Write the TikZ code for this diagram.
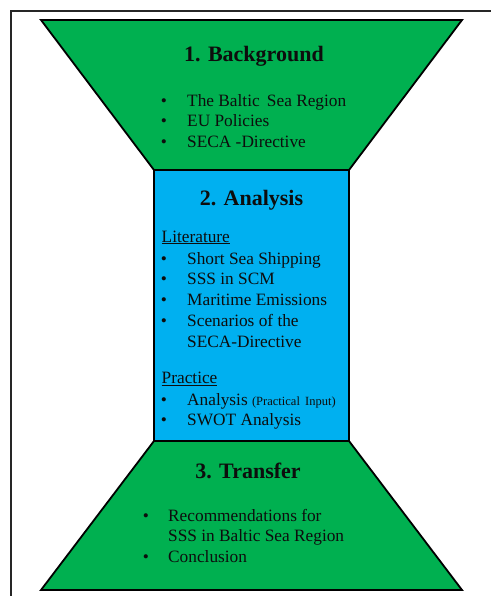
\documentclass[tikz,border=0pt]{standalone}
\usepackage{fontspec}
\setmainfont{Liberation Serif}
\definecolor{boxgreen}{HTML}{00B050}
\definecolor{boxblue}{HTML}{00B0F0}
\definecolor{txt}{HTML}{0D0D0D}
\tikzset{
  shapeline/.style={draw=black, line width=1.8pt, line join=miter},
  ttl/.style={anchor=base, inner sep=0pt, font=\fontsize{22}{26}\selectfont\bfseries, text=txt},
  itm/.style={anchor=base west, inner sep=0pt, font=\fontsize{17.3}{20.8}\selectfont, text=txt},
  dot/.style={anchor=base, inner sep=0pt, font=\fontsize{17.3}{20.8}\selectfont, text=txt},
}
\begin{document}
\begin{tikzpicture}[x=1pt, y=-1pt]
\useasboundingbox (0,0) rectangle (490,596);
% outer frame
\draw[line width=1.4pt, black!85] (11,620) -- (11,11) -- (520,11);
% shapes
\path[shapeline, fill=boxgreen] (41,20) -- (462,20) -- (349,170) -- (154,170) -- cycle;
\path[shapeline, fill=boxgreen] (154,441) -- (349,441) -- (462,590) -- (41,590) -- cycle;
\path[shapeline, fill=boxblue] (154,170) rectangle (349,441);
% section 1
\node[ttl] (t1) at (254,61.7) {1. Background};
\node[dot] (b11) at (164,106.7) {•};
\node[itm] (i11) at (187,106.7) {The Baltic\, Sea Region};
\node[dot] (b12) at (164,126.9) {•};
\node[itm] (i12) at (187,126.9) {EU Policies};
\node[dot] (b13) at (164,147.2) {•};
\node[itm] (i13) at (187,147.2) {SECA -Directive};
% section 2
\node[ttl] (t2) at (251.5,205.5) {2. Analysis};
\node[itm] (lit) at (161.5,242) {\underline{Literature}};
\node[dot] (b21) at (164,264) {•};
\node[itm] (i21) at (187,264) {Short Sea Shipping};
\node[dot] (b22) at (164,284.6) {•};
\node[itm] (i22) at (187,284.6) {SSS in SCM};
\node[dot] (b23) at (164,305.4) {•};
\node[itm] (i23) at (187,305.4) {Maritime Emissions};
\node[dot] (b24) at (164,326.2) {•};
\node[itm] (i24) at (187,326.2) {Scenarios of the};
\node[itm] (i25) at (187,347) {SECA-Directive};
\node[itm] (pra) at (161.5,383.3) {\underline{Practice}};
\node[dot] (b26) at (164,405.3) {•};
\node[itm] (i26) at (187,405.3) {Analysis \fontsize{12.5}{15}\selectfont(Practical\, Input)};
\node[dot] (b27) at (164,425.7) {•};
\node[itm] (i27) at (187,425.7) {SWOT Analysis};
% section 3
\node[ttl] (t3) at (248,478.3) {3. Transfer};
\node[dot] (b31) at (146,521.5) {•};
\node[itm] (i31) at (168,521.5) {Recommendations for};
\node[itm] (i32) at (168,541.7) {SSS in Baltic Sea Region};
\node[dot] (b33) at (146,562) {•};
\node[itm] (i33) at (168,562) {Conclusion};
\end{tikzpicture}
\end{document}
